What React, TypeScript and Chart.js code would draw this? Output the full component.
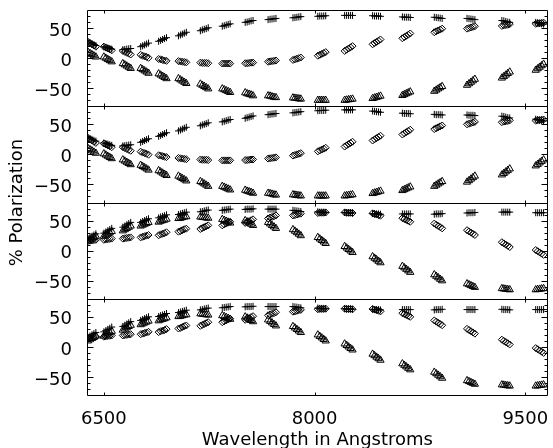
import { useEffect, useRef } from "react";
import { Chart, registerables } from "chart.js";

Chart.register(...registerables);

// Wavelength (Å) of each group of measurements, and the spacing of the points inside a group
const clusterCenters = [6415, 6528, 6663, 6790, 6918, 7059, 7215, 7371, 7534, 7697, 7874, 8051, 8242, 8441, 8653, 8880, 9113, 9361, 9602];
const clusterOffsets = [-28, -14, 0, 14, 28];

const xTickValues = [6500, 8000, 9500];
const yTickValues = [-50, 0, 50];
const yMinorValues = [-70, -60, -40, -30, -20, -10, 10, 20, 30, 40, 60, 70];

// Panel 1
const panel1Plus = [
  [27, 25.5, 24, 22.5, 21], [19, 18, 17, 16, 15], [14, 14.5, 15, 15.5, 16], [19, 20.5, 22, 23.5, 25],
  [28, 29.5, 31, 32.5, 34], [37, 38.5, 40, 41.5, 43], [45.5, 47, 48, 49, 50.5], [53, 54, 55, 56, 57],
  [59.5, 60, 61, 62, 62.5], [64, 64.5, 65, 65.5, 66], [67, 67.5, 68, 68.5, 69], [69.5, 70, 70, 70, 70.5],
  [71, 71, 71, 71, 71], [70.5, 70, 70, 70, 69.5], [68.5, 68, 68, 68, 67.5], [68, 67.5, 67, 66.5, 66],
  [66, 65.5, 65, 64.5, 64], [62.5, 62, 61, 60, 59.5], [59.5, 59, 58, 57, 56.5],
];
const panel1Diamond = [
  [27, 25, 23, 21, 19], [19, 17.5, 16, 14.5, 13], [12, 10.5, 9, 7.5, 6], [5.5, 4, 3, 2, 0.5],
  [-1.5, -2, -3, -4, -4.5], [-5, -5.5, -6, -6.5, -7], [-7.5, -8, -8, -8, -8.5], [-9, -9, -9, -9, -9],
  [-8.5, -8.5, -8, -7.5, -7.5], [-6, -5.5, -5, -4.5, -4], [-3, -2, -1, 0, 1], [4, 5.5, 7, 8.5, 10],
  [12, 14, 16, 18, 20], [23, 25, 27, 29, 31], [33, 35, 37, 39, 41], [43, 44.5, 46, 47.5, 49],
  [49, 50, 51, 52, 53], [53.5, 54.5, 55, 55.5, 56.5], [57, 57.5, 58, 58.5, 59],
];
const panel1Triangle = [
  [10, 8, 6, 4, 2], [2, 0, -2, -4, -6], [-9, -11, -13, -15, -17], [-17, -19, -21, -23, -25],
  [-26, -28, -30, -32, -34], [-34, -36, -38, -40, -42], [-43, -45, -47, -49, -51], [-51, -52.5, -54, -55.5, -57],
  [-57.5, -59, -60, -61, -62.5], [-62.5, -63, -64, -65, -65.5], [-66, -66.5, -67, -67.5, -68], [-70, -70, -70, -70, -70],
  [-70, -69.5, -69, -68.5, -68], [-67, -66, -65, -64, -63], [-62, -60.5, -59, -57.5, -56], [-55, -53, -51, -49, -47],
  [-45, -42.5, -40, -37.5, -35], [-33, -30.5, -28, -25.5, -23], [-20, -17.5, -15, -12.5, -10],
];

// Panel 2
const panel2Plus = [
  [28, 26.5, 25, 23.5, 22], [19, 18, 17, 16, 15], [14, 14.5, 15, 15.5, 16], [20, 21.5, 23, 24.5, 26],
  [30, 31.5, 33, 34.5, 36], [39, 40.5, 42, 43.5, 45], [47.5, 49, 50, 51, 52.5], [54, 55, 56, 57, 58],
  [60, 61, 62, 63, 64], [66, 66.5, 67, 67.5, 68], [69, 69.5, 70, 70.5, 71], [72.5, 73, 73, 73, 73.5],
  [74, 74, 74, 74, 74], [72, 71.5, 71, 70.5, 70], [68.5, 68, 68, 68, 67.5], [66.5, 66, 66, 66, 65.5],
  [65.5, 65, 65, 65, 64.5], [63.5, 63, 62, 61, 60.5], [58.5, 58, 57, 56, 55.5],
];
const panel2Diamond = [
  [27, 25, 23, 21, 19], [18, 16.5, 15, 13.5, 12], [12, 10.5, 9, 7.5, 6], [4.5, 3, 2, 1, -0.5],
  [-1.5, -2, -3, -4, -4.5], [-6, -6.5, -7, -7.5, -8], [-8.5, -9, -9, -9, -9.5], [-10, -10, -10, -10, -10],
  [-9.5, -9.5, -9, -8.5, -8.5], [-7, -6.5, -6, -5.5, -5], [-2, -1, 0, 1, 2], [5, 6.5, 8, 9.5, 11],
  [13, 15, 17, 19, 21], [23, 25, 27, 29, 31], [33, 35, 37, 39, 41], [42, 43.5, 45, 46.5, 48],
  [50, 51, 52, 53, 54], [53.5, 54.5, 55, 55.5, 56.5], [56, 56.5, 57, 57.5, 58],
];
const panel2Triangle = [
  [10, 8, 6, 4, 2], [1, -1, -3, -5, -7], [-9, -11, -13, -15, -17], [-18, -20, -22, -24, -26],
  [-27, -29, -31, -33, -35], [-36, -38, -40, -42, -44], [-45, -47, -49, -51, -53], [-53, -54.5, -56, -57.5, -59],
  [-59.5, -61, -62, -63, -64.5], [-64.5, -65, -66, -67, -67.5], [-67, -67.5, -68, -68.5, -69], [-69, -69, -69, -69, -69],
  [-69, -68.5, -68, -67.5, -67], [-65, -64, -63, -62, -61], [-60, -58.5, -57, -55.5, -54], [-53, -51, -49, -47, -45],
  [-46, -43.5, -41, -38.5, -36], [-34, -31.5, -29, -26.5, -24], [-19, -16.5, -14, -11.5, -9],
];

// Panel 3
const panel3Plus = [
  [20, 22, 24, 26, 28], [29, 31, 33, 35, 37], [39, 41, 43, 45, 47], [47, 48.5, 50, 51.5, 53],
  [54.5, 56, 57, 58, 59.5], [60, 61, 62, 63, 64], [64.5, 65, 66, 67, 67.5], [67, 67.5, 68, 68.5, 69],
  [68.5, 69, 69, 69, 69.5], [69, 69, 69, 69, 69], [67, 66.5, 66, 65.5, 65], [64.5, 64, 64, 64, 63.5],
  [63.5, 63, 63, 63, 62.5], [61.5, 61, 61, 61, 60.5], [61, 61, 61, 61, 61], [60.5, 61, 61, 61, 61.5],
  [62.5, 63, 63, 63, 63.5], [64, 64, 64, 64, 64], [63, 63, 63, 63, 63],
];
const panel3Diamond = [
  [16, 16.5, 17, 17.5, 18], [18, 18.5, 19, 19.5, 20], [20, 20.5, 21, 21.5, 22], [22, 23, 24, 25, 26],
  [25.5, 27, 28, 29, 30.5], [31.5, 32.5, 34, 35.5, 36.5], [36, 37.5, 39, 40.5, 42], [42, 43.5, 45, 46.5, 48],
  [46, 47.5, 49, 50.5, 52], [53.5, 55, 56, 57, 58.5], [58.5, 59, 60, 61, 61.5], [62.5, 63, 63, 63, 63.5],
  [63.5, 63, 63, 63, 62.5], [62, 61, 60, 59, 58], [54, 52.5, 51, 49.5, 48], [45, 43, 41, 39, 37],
  [34, 32, 30, 28, 26], [14, 12, 10, 8, 6], [1, -1, -3, -5, -7],
];
const panel3Triangle = [
  [16, 18, 20, 22, 24], [24, 26, 28, 30, 32], [33, 35, 37, 39, 41], [41, 42.5, 44, 45.5, 47],
  [47.5, 49, 50, 51, 52.5], [53.5, 54, 55, 56, 56.5], [56, 55.5, 55, 54.5, 54], [52, 50.5, 49, 47.5, 46],
  [50, 48, 46, 44, 42], [47, 44.5, 42, 39.5, 37], [35, 32.5, 30, 27.5, 25], [22, 19.5, 17, 14.5, 12],
  [7, 4.5, 2, -0.5, -3], [-10, -12.5, -15, -17.5, -20], [-26, -28.5, -31, -33.5, -36], [-40, -42.5, -45, -47.5, -50],
  [-55, -56.5, -58, -59.5, -61], [-63, -63.5, -64, -64.5, -65], [-65, -64.5, -64, -63.5, -63],
];

// Panel 4
const panel4Plus = [
  [16, 18, 20, 22, 24], [25, 27, 29, 31, 33], [34, 36, 38, 40, 42], [44, 45.5, 47, 48.5, 50],
  [50.5, 52, 53, 54, 55.5], [57, 58, 59, 60, 61], [61.5, 62, 63, 64, 64.5], [65, 65.5, 66, 66.5, 67],
  [66.5, 67, 67, 67, 67.5], [67, 67, 67, 67, 67], [67, 66.5, 66, 65.5, 65], [64.5, 64, 64, 64, 63.5],
  [63.5, 63, 63, 63, 62.5], [62.5, 62, 62, 62, 61.5], [62, 62, 62, 62, 62], [61.5, 62, 62, 62, 62.5],
  [62, 62, 62, 62, 62], [62.5, 62, 62, 62, 61.5], [62, 62, 62, 62, 62],
];
const panel4Diamond = [
  [15, 15.5, 16, 16.5, 17], [17, 17.5, 18, 18.5, 19], [19, 19.5, 20, 20.5, 21], [21, 22, 23, 24, 25],
  [24.5, 26, 27, 28, 29.5], [30.5, 31.5, 33, 34.5, 35.5], [35, 36.5, 38, 39.5, 41], [41, 42.5, 44, 45.5, 47],
  [45, 46.5, 48, 49.5, 51], [52.5, 54, 55, 56, 57.5], [58.5, 59, 60, 61, 61.5], [62.5, 63, 63, 63, 63.5],
  [63.5, 63, 63, 63, 62.5], [63, 62, 61, 60, 59], [56, 54.5, 53, 51.5, 50], [44, 42, 40, 38, 36],
  [30, 28, 26, 24, 22], [12, 10, 8, 6, 4], [-2, -4, -6, -8, -10],
];
const panel4Triangle = [
  [10, 12, 14, 16, 18], [18, 20, 22, 24, 26], [28, 30, 32, 34, 36], [37, 38.5, 40, 41.5, 43],
  [43.5, 45, 46, 47, 48.5], [50.5, 51, 52, 53, 53.5], [55, 54.5, 54, 53.5, 53], [52, 50.5, 49, 47.5, 46],
  [50, 48, 46, 44, 42], [45, 42.5, 40, 37.5, 35], [34, 31.5, 29, 26.5, 24], [20, 17.5, 15, 12.5, 10],
  [5, 2.5, 0, -2.5, -5], [-12, -14.5, -17, -19.5, -22], [-28, -30.5, -33, -35.5, -38], [-42, -44.5, -47, -49.5, -52],
  [-56, -57.5, -59, -60.5, -62], [-63, -63.5, -64, -64.5, -65], [-65, -64.5, -64, -63.5, -63],
];

const panels = [
  { id: "y1", plus: panel1Plus, diamond: panel1Diamond, triangle: panel1Triangle },
  { id: "y2", plus: panel2Plus, diamond: panel2Diamond, triangle: panel2Triangle },
  { id: "y3", plus: panel3Plus, diamond: panel3Diamond, triangle: panel3Triangle },
  { id: "y4", plus: panel4Plus, diamond: panel4Diamond, triangle: panel4Triangle },
];

const FONT = "'DejaVu Sans', sans-serif";
const INK = "#000";

function toPoints(groups: number[][]) {
  const pts: { x: number; y: number }[] = [];
  groups.forEach((group, i) => {
    group.forEach((v, j) => pts.push({ x: clusterCenters[i] + clusterOffsets[j], y: v }));
  });
  return pts;
}

const markerStyles = {
  plus: { pointStyle: "cross", pointRadius: 3.5 },
  diamond: { pointStyle: "rectRot", pointRadius: 3.5 },
  triangle: { pointStyle: "triangle", pointRadius: 4.2 },
};

// Boxes, inward tick marks on all four sides of each panel
const framePlugin = {
  id: "panelFrames",
  beforeDatasetsDraw(chart: any) {
    const { ctx, chartArea, scales } = chart;
    const xs = scales.x;
    const L = Math.round(chartArea.left) + 0.5;
    const R = Math.round(chartArea.right) - 0.5;
    ctx.save();
    ctx.strokeStyle = INK;
    ctx.lineWidth = 1;
    for (const p of panels) {
      const s = scales[p.id];
      const T = Math.round(s.top) + 0.5;
      const B = Math.round(s.bottom) + 0.5;
      ctx.beginPath();
      ctx.rect(L, T, R - L, B - T);
      const yTick = (v: number, len: number) => {
        const y = Math.round(s.getPixelForValue(v)) + 0.5;
        ctx.moveTo(L, y);
        ctx.lineTo(L + len, y);
        ctx.moveTo(R, y);
        ctx.lineTo(R - len, y);
      };
      yTickValues.forEach((v) => yTick(v, 6));
      yMinorValues.forEach((v) => yTick(v, 3));
      xTickValues.forEach((v) => {
        const x = Math.round(xs.getPixelForValue(v)) + 0.5;
        ctx.moveTo(x, T);
        ctx.lineTo(x, T + 3);
        ctx.moveTo(x, B);
        ctx.lineTo(x, B - 3);
      });
      ctx.stroke();
    }
    ctx.restore();
  },
};

function panelAxis(weight: number) {
  return {
    type: "linear",
    position: "left",
    stack: "panels",
    stackWeight: 1,
    weight,
    min: -80,
    max: 80,
    grid: { display: false },
    border: { display: false },
    afterBuildTicks: (s: any) => {
      s.ticks = yTickValues.map((v) => ({ value: v }));
    },
    ticks: {
      padding: 7,
      labelOffset: 3,
      color: INK,
      font: { family: FONT, size: 18 },
      callback: (v: number) => (v < 0 ? "\u2212" + Math.abs(v) : String(v)),
    },
    afterFit: (s: any) => {
      s.width = 57;
      s.paddingTop = 0;
      s.paddingBottom = 0;
    },
  };
}

export default function App() {
  const canvasRef = useRef<HTMLCanvasElement | null>(null);

  useEffect(() => {
    document.body.style.margin = "0";
    const canvas = canvasRef.current;
    if (!canvas) return;

    const datasets: any[] = [];
    for (const p of panels) {
      (["plus", "diamond", "triangle"] as const).forEach((kind) => {
        datasets.push({
          label: `${p.id}-${kind}`,
          data: toPoints(p[kind]),
          yAxisID: p.id,
          xAxisID: "x",
          borderColor: INK,
          backgroundColor: "rgba(0,0,0,0)",
          borderWidth: 1,
          clip: 0,
          ...markerStyles[kind],
        });
      });
    }

    const chart = new Chart(canvas, {
      type: "scatter",
      data: { datasets },
      options: {
        animation: false,
        responsive: false,
        devicePixelRatio: 1,
        events: [],
        layout: { padding: { top: 10, right: 3, left: 0, bottom: 0 } },
        plugins: { legend: { display: false }, tooltip: { enabled: false } },
        scales: {
          x: {
            type: "linear",
            position: "bottom",
            min: 6380,
            max: 9660,
            grid: { display: false },
            border: { display: false },
            afterBuildTicks: (s: any) => {
              s.ticks = xTickValues.map((v) => ({ value: v }));
            },
            ticks: {
              padding: 6,
              maxRotation: 0,
              autoSkip: false,
              color: INK,
              font: { family: FONT, size: 18 },
              callback: (v: number) => String(v),
            },
            title: {
              display: true,
              text: "Wavelength in Angstroms",
              color: INK,
              font: { family: FONT, size: 18, lineHeight: 1 },
              padding: { top: 0, bottom: -1 },
            },
            afterFit: (s: any) => {
              s.height = 53;
              s.paddingLeft = 0;
              s.paddingRight = 0;
            },
          },
          yTitle: {
            type: "linear",
            position: "left",
            weight: 10,
            min: 0,
            max: 1,
            grid: { display: false },
            border: { display: false },
            ticks: { display: false },
            title: {
              display: true,
              text: "% Polarization",
              color: INK,
              font: { family: FONT, size: 18 },
              padding: { top: 7, bottom: 0 },
            },
            afterFit: (s: any) => {
              s.width = 30;
              s.paddingTop = 0;
              s.paddingBottom = 0;
            },
          },
          y1: panelAxis(4),
          y2: panelAxis(3),
          y3: panelAxis(2),
          y4: panelAxis(1),
        } as any,
      },
      plugins: [framePlugin],
    } as any);

    return () => chart.destroy();
  }, []);

  return (
    <div style={{ width: 553, height: 448, background: "#fff" }}>
      <canvas ref={canvasRef} width={553} height={448} style={{ display: "block" }} />
    </div>
  );
}
